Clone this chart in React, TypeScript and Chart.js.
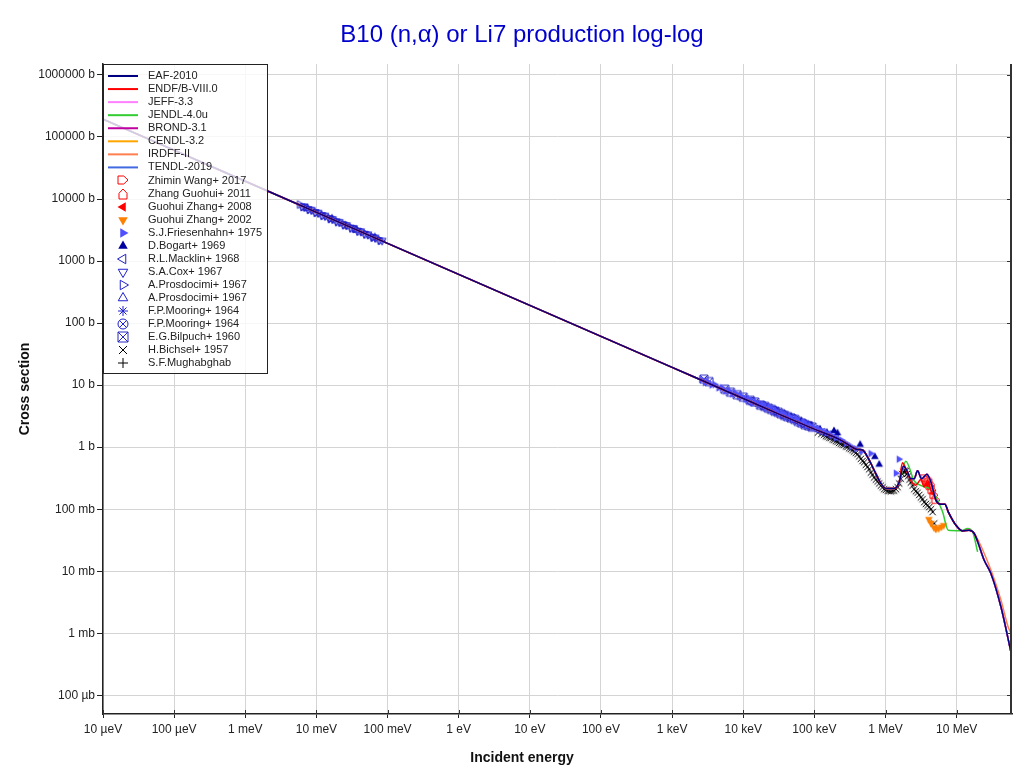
import React, { useEffect, useRef } from 'react';
import { Chart, registerables } from 'chart.js';

Chart.register(...registerables);

type P = [number, number];

const FONT = '"Liberation Sans", Arial, Helvetica, sans-serif';

const chartTitle = 'B10 (n,α) or Li7 production log-log';
const xAxisTitle = 'Incident energy';
const yAxisTitle = 'Cross section';

const xTickValues = [1e-5, 1e-4, 1e-3, 1e-2, 1e-1, 1, 10, 100, 1e3, 1e4, 1e5, 1e6, 1e7];
const xTickLabels = ['10 µeV', '100 µeV', '1 meV', '10 meV', '100 meV', '1 eV', '10 eV', '100 eV', '1 keV', '10 keV', '100 keV', '1 MeV', '10 MeV'];
const yTickValues = [1e-4, 1e-3, 1e-2, 1e-1, 1, 10, 100, 1e3, 1e4, 1e5, 1e6];
const yTickLabels = ['100 µb', '1 mb', '10 mb', '100 mb', '1 b', '10 b', '100 b', '1000 b', '10000 b', '100000 b', '1000000 b'];

// Evaluated curves (energy in eV, cross section in b)
const thermalLine: P[] = [
  [1e-5, 1.93e5], [1e-3, 1.93e4], [0.1, 1930], [10, 193], [1e3, 19.3], [1e4, 6.1], [3e4, 3.5], [1e5, 1.95],
  [2.35e5, 1.3], [3.44e5, 0.99], [4.04e5, 0.92], [4.75e5, 0.9], [5.58e5, 0.7], [6.92e5, 0.425], [8.6e5, 0.26],
  [1.01e6, 0.216], [1.32e6, 0.216], [1.56e6, 0.275],
];
const eafHigh: P[] = [
  [1.79e6, 0.494], [2.04e6, 0.4], [2.27e6, 0.31], [2.53e6, 0.31], [2.82e6, 0.415], [3.21e6, 0.31], [3.82e6, 0.367],
  [4.35e6, 0.275], [5.11e6, 0.14], [6.01e6, 0.12], [6.84e6, 0.12], [7.62e6, 0.0906], [9.78e6, 0.055],
  [1.21e7, 0.0447], [1.5e7, 0.0458], [1.77e7, 0.0405], [2.44e7, 0.015], [3.03e7, 0.0092], [4.2e7, 0.00265], [6.0e7, 4.15e-4],
];
const endfHigh: P[] = [
  [1.73e6, 0.56], [2.0e6, 0.4], [2.27e6, 0.29], [2.67e6, 0.244], [3.14e6, 0.3], [3.5e6, 0.229], [3.9e6, 0.29],
  [4.35e6, 0.2], [4.84e6, 0.168], [5.11e6, 0.14], [6.01e6, 0.12], [6.84e6, 0.12], [7.62e6, 0.0906], [9.78e6, 0.055],
  [1.21e7, 0.0447], [1.5e7, 0.0458], [1.77e7, 0.0405], [2.0e7, 0.03],
];
const jendlHigh: P[] = [
  [1.93e6, 0.594], [2.53e6, 0.286], [3.32e6, 0.235], [4.11e6, 0.216], [5.1e6, 0.158], [6.34e6, 0.0906],
  [7.62e6, 0.0458], [1.15e7, 0.045], [1.43e7, 0.0489], [1.68e7, 0.043], [1.97e7, 0.0205],
];
const irdffTail: P[] = [[3.03e7, 0.0105], [4.2e7, 0.0034], [5.3e7, 0.00126], [6.0e7, 9.3e-4]];

// Experimental data
const zhiminWang2017: P[] = [[3.57e6, 0.316], [3.94e6, 0.272], [4.21e6, 0.235], [4.49e6, 0.202], [4.79e6, 0.168], [5.1e6, 0.14]];
const zhangGuohui2011: P[] = [[3.7e6, 0.294], [4.35e6, 0.25], [4.0e6, 0.3]];
const guohuiZhang2008: P[] = [[3.8e6, 0.24], [4.7e6, 0.18], [4.2e6, 0.27]];
const guohuiZhang2002: P[] = [[4.07e6, 0.069], [4.35e6, 0.06], [4.79e6, 0.051], [5.1e6, 0.048], [5.57e6, 0.049], [6.1e6, 0.052], [6.56e6, 0.055]];
const friesenhahn1975: P[] = [
  [2.6e3, 12.4], [2.9e3, 11.0], [3.2e3, 11.3], [3.6e3, 10.0], [4.0e3, 10.2], [4.5e3, 9.0], [5.0e3, 9.1], [5.6e3, 8.0],
  [6.3e3, 8.2], [7.0e3, 7.2], [7.8e3, 7.4], [8.7e3, 6.5], [9.6e3, 6.6], [1.08e4, 5.9], [1.2e4, 6.0], [1.34e4, 5.2],
  [1.5e4, 5.4], [1.68e4, 4.8], [1.88e4, 4.9], [2.1e4, 4.3], [2.35e4, 4.4], [2.6e4, 3.8], [2.9e4, 3.9], [3.25e4, 3.45],
  [3.6e4, 3.5], [4.0e4, 3.1], [4.5e4, 3.15], [5.0e4, 2.8], [5.6e4, 2.85], [6.3e4, 2.5], [7.0e4, 2.55], [7.9e4, 2.25],
  [8.8e4, 2.25], [1.0e5, 2.05], [1.15e5, 1.95], [1.3e5, 1.8], [1.5e5, 1.7], [1.75e5, 1.55], [2.0e5, 1.42], [2.4e5, 1.3],
  [2.8e5, 1.15], [3.3e5, 1.02], [3.9e5, 0.93], [4.6e5, 0.86], [6.2e5, 0.79], [1.4e6, 0.38], [1.54e6, 0.64],
];
const bogart1969: P[] = [
  [3.0e4, 3.75], [4.7e4, 3.05], [6.5e4, 2.6], [9.0e4, 2.25], [1.2e5, 1.95], [1.5e5, 1.72], [1.89e5, 1.83],
  [2.11e5, 1.68], [4.4e5, 1.1], [7.08e5, 0.7], [8.15e5, 0.526],
];
const macklin1968: P[] = [[6.0e4, 2.55], [8.0e4, 2.25], [1.05e5, 1.95], [1.3e5, 1.75], [1.6e5, 1.6], [2.0e5, 1.45]];
const cox1967: P[] = [
  [0.0062, 7600], [0.0068, 7520], [0.0076, 6870], [0.0085, 6720], [0.0095, 6150], [0.0106, 6020], [0.0118, 5510],
  [0.0132, 5400], [0.015, 4890], [0.0168, 4780], [0.0188, 4370], [0.021, 4280], [0.0237, 3890], [0.0265, 3810],
  [0.03, 3460], [0.0335, 3390], [0.0375, 3090], [0.042, 3030], [0.047, 2760], [0.053, 2700], [0.06, 2440],
  [0.067, 2400], [0.075, 2180], [0.084, 2140],
];
const prosdocimiA1967: P[] = [
  [0.0058, 8150], [0.0065, 7450], [0.0072, 7300], [0.008, 6700], [0.009, 6550], [0.01, 5980], [0.0112, 5880],
  [0.0125, 5350], [0.014, 5260], [0.0158, 4760], [0.0178, 4660], [0.02, 4230], [0.0224, 4150], [0.025, 3790],
  [0.028, 3710], [0.0316, 3370], [0.0355, 3300], [0.04, 2990], [0.045, 2930], [0.05, 2680], [0.056, 2620],
  [0.063, 2390], [0.071, 2330], [0.08, 2120],
];
const prosdocimiB1967: P[] = [[0.0074, 7150], [0.0165, 4800], [0.036, 3180], [0.066, 2400]];
const mooringA1964: P[] = [[1.1e4, 6.1], [1.6e4, 5.0], [2.2e4, 4.4], [3.0e4, 3.7], [4.3e4, 3.05], [6.0e4, 2.65], [8.5e4, 2.2]];
const mooringB1964: P[] = [[1.3e4, 5.5], [1.9e4, 4.7], [2.7e4, 3.95], [3.7e4, 3.35], [5.1e4, 2.9], [7.2e4, 2.4]];
const bilpuch1960: P[] = [
  [2.8e3, 12.5], [3.3e3, 11.4], [5.5e3, 8.6], [6.6e3, 7.7], [8.2e3, 7.0], [1.0e4, 6.4], [1.25e4, 5.7], [1.45e4, 5.35],
  [1.75e4, 4.75], [2.0e4, 4.55], [2.25e4, 4.25], [2.5e4, 4.05], [2.8e4, 3.8], [3.1e4, 3.65], [3.4e4, 3.45],
  [3.8e4, 3.25], [4.2e4, 3.1], [4.7e4, 2.95], [5.3e4, 2.8], [5.9e4, 2.6], [6.6e4, 2.45], [7.4e4, 2.3], [8.3e4, 2.2], [9.3e4, 2.1],
];
const bichsel1957: P[] = [
  [1.12e5, 1.72], [1.25e5, 1.62], [1.37e5, 1.58], [1.45e5, 1.5], [1.53e5, 1.47], [1.62e5, 1.42], [1.7e5, 1.4],
  [1.8e5, 1.33], [1.9e5, 1.3], [2.0e5, 1.25], [2.11e5, 1.22], [2.22e5, 1.17], [2.35e5, 1.14], [2.48e5, 1.1],
  [2.62e5, 1.08], [2.77e5, 1.03], [2.92e5, 1.01], [3.08e5, 0.96], [3.25e5, 0.93], [3.43e5, 0.89], [3.62e5, 0.85],
  [3.83e5, 0.81], [4.04e5, 0.77], [4.27e5, 0.71], [4.5e5, 0.65], [4.75e5, 0.6], [5.01e5, 0.57], [5.29e5, 0.52],
  [5.58e5, 0.48], [5.89e5, 0.44], [6.22e5, 0.39], [6.57e5, 0.36], [6.93e5, 0.325], [7.32e5, 0.3], [7.72e5, 0.28],
  [8.15e5, 0.26], [8.6e5, 0.24], [9.08e5, 0.225], [9.58e5, 0.21], [1.01e6, 0.205], [1.07e6, 0.198], [1.13e6, 0.196],
  [1.19e6, 0.194], [1.25e6, 0.198], [1.32e6, 0.2], [1.4e6, 0.21], [1.48e6, 0.226], [1.56e6, 0.26], [1.64e6, 0.31],
  [1.72e6, 0.37], [1.79e6, 0.4], [1.86e6, 0.42], [1.93e6, 0.41], [2.0e6, 0.37], [2.08e6, 0.34], [2.17e6, 0.3],
  [2.27e6, 0.27], [2.4e6, 0.24], [2.53e6, 0.21], [2.67e6, 0.195], [2.82e6, 0.185], [2.98e6, 0.17], [3.14e6, 0.155],
  [3.32e6, 0.145], [3.5e6, 0.13], [3.7e6, 0.122], [3.9e6, 0.115], [4.12e6, 0.108], [4.35e6, 0.1], [4.59e6, 0.09], [4.84e6, 0.059],
];
const mughabghab: P[] = [[0.0253, 3840]];

type LineDef = { label: string; color: string; data: P[] };
type PointDef = { label: string; color: string; kind: string; data: P[] };

const lineDefs: LineDef[] = [
  { label: 'EAF-2010', color: '#000080', data: [...thermalLine, ...eafHigh] },
  { label: 'ENDF/B-VIII.0', color: '#ff0000', data: [...thermalLine, ...endfHigh] },
  { label: 'JEFF-3.3', color: '#ff80ff', data: [...thermalLine, ...eafHigh] },
  { label: 'JENDL-4.0u', color: '#33cc33', data: [...thermalLine, ...jendlHigh] },
  { label: 'BROND-3.1', color: '#c000a0', data: [...thermalLine, ...eafHigh] },
  { label: 'CENDL-3.2', color: '#ffa500', data: [...thermalLine, ...eafHigh] },
  { label: 'IRDFF-II', color: '#ff7f50', data: [...thermalLine, ...eafHigh.slice(0, 16), ...irdffTail] },
  { label: 'TENDL-2019', color: '#4169e1', data: [...thermalLine, ...eafHigh] },
];

const pointDefs: PointDef[] = [
  { label: 'Zhimin Wang+ 2017', color: '#ff0000', kind: 'houseRight', data: zhiminWang2017 },
  { label: 'Zhang Guohui+ 2011', color: '#ff0000', kind: 'houseUp', data: zhangGuohui2011 },
  { label: 'Guohui Zhang+ 2008', color: '#ff0000', kind: 'triLeftF', data: guohuiZhang2008 },
  { label: 'Guohui Zhang+ 2002', color: '#ff8000', kind: 'triDownF', data: guohuiZhang2002 },
  { label: 'S.J.Friesenhahn+ 1975', color: '#5050ff', kind: 'triRightF', data: friesenhahn1975 },
  { label: 'D.Bogart+ 1969', color: '#0000a0', kind: 'triUpF', data: bogart1969 },
  { label: 'R.L.Macklin+ 1968', color: '#2020cc', kind: 'triLeft', data: macklin1968 },
  { label: 'S.A.Cox+ 1967', color: '#2020cc', kind: 'triDown', data: cox1967 },
  { label: 'A.Prosdocimi+ 1967', color: '#2020cc', kind: 'triRight', data: prosdocimiA1967 },
  { label: 'A.Prosdocimi+ 1967', color: '#2020cc', kind: 'triUp', data: prosdocimiB1967 },
  { label: 'F.P.Mooring+ 1964', color: '#2020cc', kind: 'asterisk', data: mooringA1964 },
  { label: 'F.P.Mooring+ 1964', color: '#2020cc', kind: 'circleX', data: mooringB1964 },
  { label: 'E.G.Bilpuch+ 1960', color: '#2828c0', kind: 'squareX', data: bilpuch1960 },
  { label: 'H.Bichsel+ 1957', color: '#000000', kind: 'x', data: bichsel1957 },
  { label: 'S.F.Mughabghab', color: '#000000', kind: 'plus', data: mughabghab },
];

function makeMarker(kind: string, color: string, size: number): HTMLCanvasElement {
  const c = document.createElement('canvas');
  const dim = Math.ceil(size) + 4;
  c.width = dim;
  c.height = dim;
  const g = c.getContext('2d') as CanvasRenderingContext2D;
  g.translate(dim / 2, dim / 2);
  g.strokeStyle = color;
  g.fillStyle = color;
  g.lineWidth = 1;
  const r = size / 2;
  const poly = (angles: number[], rad: number, fill: boolean) => {
    g.beginPath();
    angles.forEach((a, i) => {
      const t = (a * Math.PI) / 180;
      const x = rad * Math.cos(t);
      const y = rad * Math.sin(t);
      if (i) g.lineTo(x, y);
      else g.moveTo(x, y);
    });
    g.closePath();
    if (fill) g.fill();
    else g.stroke();
  };
  const house = () => {
    g.beginPath();
    g.moveTo(-r * 0.8, r);
    g.lineTo(r * 0.8, r);
    g.lineTo(r * 0.8, -r * 0.15);
    g.lineTo(0, -r);
    g.lineTo(-r * 0.8, -r * 0.15);
    g.closePath();
    g.stroke();
  };
  const tr = r * 1.1;
  switch (kind) {
    case 'houseUp': house(); break;
    case 'houseRight': g.rotate(Math.PI / 2); house(); break;
    case 'triUpF': poly([-90, 30, 150], tr, true); break;
    case 'triDownF': poly([90, 210, 330], tr, true); break;
    case 'triRightF': poly([0, 120, 240], tr, true); break;
    case 'triLeftF': poly([180, 300, 60], tr, true); break;
    case 'triUp': poly([-90, 30, 150], tr, false); break;
    case 'triDown': poly([90, 210, 330], tr, false); break;
    case 'triRight': poly([0, 120, 240], tr, false); break;
    case 'triLeft': poly([180, 300, 60], tr, false); break;
    case 'asterisk':
      g.beginPath();
      for (let a = 0; a < 4; a++) {
        const t = (a * Math.PI) / 4;
        g.moveTo(-r * Math.cos(t), -r * Math.sin(t));
        g.lineTo(r * Math.cos(t), r * Math.sin(t));
      }
      g.stroke();
      break;
    case 'circleX': {
      g.beginPath();
      g.arc(0, 0, r, 0, Math.PI * 2);
      const d = r * 0.707;
      g.moveTo(-d, -d); g.lineTo(d, d);
      g.moveTo(d, -d); g.lineTo(-d, d);
      g.stroke();
      break;
    }
    case 'squareX':
      g.beginPath();
      g.rect(-r, -r, 2 * r, 2 * r);
      g.moveTo(-r, -r); g.lineTo(r, r);
      g.moveTo(r, -r); g.lineTo(-r, r);
      g.stroke();
      break;
    case 'x': {
      const d = r * 0.8;
      g.beginPath();
      g.moveTo(-d, -d); g.lineTo(d, d);
      g.moveTo(d, -d); g.lineTo(-d, d);
      g.stroke();
      break;
    }
    case 'plus':
      g.beginPath();
      g.moveTo(-r, 0); g.lineTo(r, 0);
      g.moveTo(0, -r); g.lineTo(0, r);
      g.stroke();
      break;
  }
  return c;
}

const toXY = (arr: P[]) => arr.map(([x, y]) => ({ x, y }));

export default function App() {
  const ref = useRef<HTMLCanvasElement | null>(null);

  useEffect(() => {
    if (!ref.current) return;
    const legendMarkers = pointDefs.map((p) => makeMarker(p.kind, p.color, 10));
    const dataMarkers = pointDefs.map((p) => makeMarker(p.kind, p.color, 8));

    const datasets: any[] = [
      ...lineDefs.map((l) => ({
        type: 'line',
        label: l.label,
        data: toXY(l.data),
        borderColor: l.color,
        backgroundColor: l.color,
        borderWidth: 1.5,
        pointRadius: 0,
        showLine: true,
        fill: false,
        cubicInterpolationMode: 'monotone',
      })),
      ...pointDefs.map((p, i) => ({
        type: 'scatter',
        label: p.label,
        data: toXY(p.data),
        pointStyle: dataMarkers[i],
        pointRadius: 4,
        showLine: false,
      })),
    ];

    const overlay = {
      id: 'overlay',
      afterDraw(chart: any) {
        const ctx = chart.ctx as CanvasRenderingContext2D;
        const area = chart.chartArea;
        const xs = chart.scales.x;
        const ys = chart.scales.y;
        ctx.save();
        // right border + inward ticks
        ctx.strokeStyle = '#333';
        ctx.lineWidth = 2;
        ctx.beginPath();
        ctx.moveTo(area.right - 1, area.top);
        ctx.lineTo(area.right - 1, area.bottom);
        ctx.stroke();
        ctx.lineWidth = 1;
        ctx.beginPath();
        yTickValues.forEach((v) => {
          const py = Math.round(ys.getPixelForValue(v)) + 0.5;
          ctx.moveTo(area.right - 5, py);
          ctx.lineTo(area.right - 1, py);
        });
        xTickValues.forEach((v) => {
          const px = Math.round(xs.getPixelForValue(v)) + 0.5;
          ctx.moveTo(px, area.bottom - 4);
          ctx.lineTo(px, area.bottom);
        });
        ctx.stroke();

        // legend
        const lx = area.left;
        const ly = area.top;
        const lw = 164;
        const lh = 309;
        ctx.fillStyle = 'rgba(255,255,255,0.8)';
        ctx.fillRect(lx, ly, lw, lh);
        ctx.strokeStyle = '#222';
        ctx.lineWidth = 1;
        ctx.strokeRect(lx + 0.5, ly + 0.5, lw, lh);
        ctx.font = `11px ${FONT}`;
        ctx.textBaseline = 'middle';
        ctx.textAlign = 'left';
        const step = 13.06;
        let row = 0;
        lineDefs.forEach((l) => {
          const cy = ly + 12 + row * step;
          ctx.strokeStyle = l.color;
          ctx.lineWidth = 2;
          ctx.beginPath();
          ctx.moveTo(lx + 5, cy);
          ctx.lineTo(lx + 35, cy);
          ctx.stroke();
          ctx.fillStyle = '#222';
          ctx.fillText(l.label, lx + 45, cy);
          row++;
        });
        pointDefs.forEach((p, i) => {
          const cy = ly + 12 + row * step;
          const m = legendMarkers[i];
          ctx.drawImage(m, Math.round(lx + 20 - m.width / 2), Math.round(cy - m.height / 2));
          ctx.fillStyle = '#222';
          ctx.fillText(p.label, lx + 45, cy);
          row++;
        });

        // titles
        ctx.fillStyle = '#0000cc';
        ctx.font = `24px ${FONT}`;
        ctx.textAlign = 'center';
        ctx.fillText(chartTitle, 522, 35);
        ctx.fillStyle = '#111';
        ctx.font = `bold 14px ${FONT}`;
        ctx.fillText(xAxisTitle, 522, 758);
        ctx.translate(25, (area.top + area.bottom) / 2);
        ctx.rotate(-Math.PI / 2);
        ctx.fillText(yAxisTitle, 0, 0);
        ctx.restore();
      },
    };

    const chart = new Chart(ref.current, {
      type: 'scatter',
      data: { datasets },
      options: {
        animation: false,
        responsive: false,
        maintainAspectRatio: false,
        events: [],
        layout: { padding: { left: 0, right: 8, top: 64, bottom: 0 } },
        plugins: {
          legend: { display: false },
          title: { display: false },
          tooltip: { enabled: false },
        },
        scales: {
          x: {
            type: 'logarithmic',
            min: 1e-5,
            max: 6e7,
            afterBuildTicks: (s: any) => {
              s.ticks = xTickValues.map((v) => ({ value: v }));
            },
            afterFit: (s: any) => {
              s.height = 60;
            },
            ticks: {
              autoSkip: false,
              maxRotation: 0,
              padding: 4,
              color: '#222',
              font: { family: FONT, size: 12 },
              callback: (_v: any, i: number) => xTickLabels[i],
            },
            grid: { color: '#d4d4d4', lineWidth: 1, tickLength: 4, tickColor: '#222' },
            border: { color: '#222', width: 1.5 },
          },
          y: {
            type: 'logarithmic',
            min: 5e-5,
            max: 1.5e6,
            afterBuildTicks: (s: any) => {
              s.ticks = yTickValues.map((v) => ({ value: v }));
            },
            afterFit: (s: any) => {
              s.width = 103;
            },
            ticks: {
              autoSkip: false,
              padding: 2,
              color: '#222',
              font: { family: FONT, size: 12 },
              callback: (_v: any, i: number) => yTickLabels[i],
            },
            grid: { color: '#d4d4d4', lineWidth: 1, tickLength: 6, tickColor: '#222' },
            border: { color: '#222', width: 1.5 },
          },
        },
      } as any,
      plugins: [overlay],
    });
    return () => chart.destroy();
  }, []);

  return (
    <div style={{ position: 'absolute', left: 0, top: 0, width: 1020, height: 774, background: '#fff' }}>
      <canvas ref={ref} width={1020} height={774} style={{ display: 'block' }} />
    </div>
  );
}
